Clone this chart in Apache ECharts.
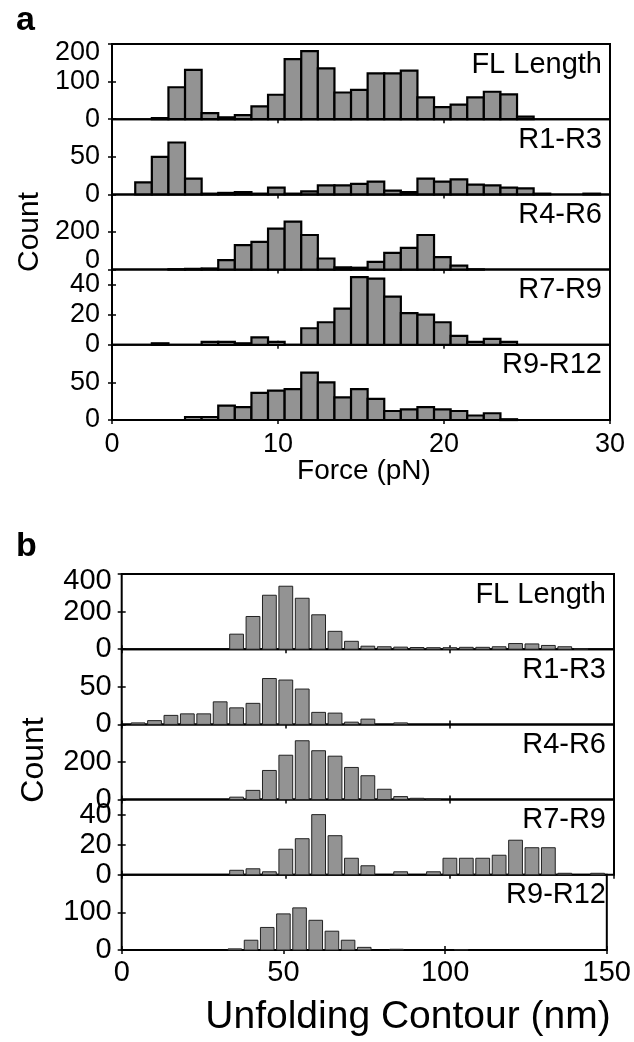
<!DOCTYPE html>
<html><head><meta charset="utf-8">
<script src="https://cdn.jsdelivr.net/npm/echarts@6/dist/echarts.min.js"></script>
<style>html,body{margin:0;padding:0;background:#fff}#c{width:634px;height:1042px}</style>
</head><body><div id="c"></div>
<script>
// ---------- DATA ----------
const panelNames = ['FL Length', 'R1-R3', 'R4-R6', 'R7-R9', 'R9-R12'];

// Panel a: force histograms (bin centres in pN, counts)
const forceBins = [1.9, 2.9, 3.9, 4.9, 5.9, 6.9, 7.9, 8.9, 9.9, 10.9, 11.9, 12.9, 13.9, 14.9,
  15.9, 16.9, 17.9, 18.9, 19.9, 20.9, 21.9, 22.9, 23.9, 24.9, 25.9, 26.9, 27.9, 28.9];
const forceFL    = [0, 3, 85, 131, 16, 5, 11, 34, 65, 160, 181, 135, 71, 78, 122, 122, 129, 58, 32, 39, 58, 73, 66, 7, 0, 0, 0, 0];
const forceR1R3  = [16, 50, 69, 21, 1, 2, 3, 1, 9, 1, 4, 12, 12, 14, 17, 5, 3, 21, 17, 20, 13, 12, 9, 8, 1, 0, 0, 1];
const forceR4R6  = [0, 0, 2, 4, 6, 50, 130, 148, 218, 255, 184, 59, 12, 10, 41, 89, 116, 184, 66, 21, 1, 0, 0, 0, 0, 0, 0, 0];
const forceR7R9  = [0, 1, 0, 0, 2, 2, 1, 5, 2, 0, 11, 15, 24, 45, 44, 32, 21, 20, 15, 6, 2, 4, 2, 0, 0, 0, 0, 0];
const forceR9R12 = [0, 0, 0, 4, 4, 19, 17, 36, 39, 41, 63, 50, 30, 41, 28, 12, 14, 17, 14, 12, 6, 9, 1, 0, 0, 0, 0, 0];
const forceYMax   = [200, 100, 400, 50, 100];
const forceYTicks = [[0, 100, 200], [0, 50], [0, 200], [0, 20, 40], [0, 50]];
const forceXTicks = [0, 10, 20, 30];

// Panel b: unfolding contour histograms (bin centres in nm, counts)
const contourBins = [5, 10, 15, 20, 25, 30, 35, 40, 45, 50, 55, 60, 65, 70, 75, 80, 85, 90, 95,
  100, 105, 110, 115, 120, 125, 130, 135, 140, 145];
const contourFL    = [0, 0, 0, 0, 0, 0, 80, 174, 287, 335, 271, 183, 95, 42, 16, 13, 11, 9, 8, 8, 10, 10, 13, 30, 28, 20, 13, 3, 0];
const contourR1R3  = [2, 5, 12, 14, 14, 30, 22, 28, 61, 59, 47, 16, 15, 3, 7, 0, 2, 0, 0, 0, 0, 0, 0, 0, 0, 0, 0, 0, 0];
const contourR4R6  = [0, 0, 0, 0, 0, 0, 13, 49, 155, 236, 313, 260, 231, 171, 127, 55, 16, 7, 2, 0, 0, 0, 0, 0, 0, 0, 0, 0, 0];
const contourR7R9  = [0, 0, 0, 0, 0, 0, 3, 4, 2, 17, 24, 40, 26, 11, 6, 0, 2, 0, 2, 11, 11, 11, 13, 23, 18, 18, 1, 0, 1];
const contourR9R12 = [0, 0, 0, 0, 0, 0, 3, 26, 60, 96, 112, 79, 50, 26, 7, 0, 2, 0, 0, 0, 1, 0, 0, 0, 0, 0, 0, 0, 0];
const contourYMax   = [400, 100, 400, 50, 200];
const contourYTicks = [[0, 200, 400], [0, 50], [0, 200], [0, 20, 40], [0, 100]];
const contourXTicks = [0, 50, 100, 150];

// ---------- CHART ----------
const FONT = '"Liberation Sans", Arial, Helvetica, sans-serif';
const chart = echarts.init(document.getElementById('c'), null, {renderer: 'canvas'});

const panels = [
  {bins: forceBins, series: [forceFL, forceR1R3, forceR4R6, forceR7R9, forceR9R12],
   yMax: forceYMax, yTicks: forceYTicks, xTicks: forceXTicks,
   left: 112, width: 498, top: 44, h: 75.2, halfW: 0.5, stroke: '#000', lw: 2.2,
   tickFont: 27, lineH: 18, xMargin: 11, yMargin: 12},
  {bins: contourBins, series: [contourFL, contourR1R3, contourR4R6, contourR7R9, contourR9R12],
   yMax: contourYMax, yTicks: contourYTicks, xTicks: contourXTicks,
   left: 121.7, width: 492.3, top: 574, h: 75.2, halfW: 2.1, stroke: '#222', lw: 1,
   tickFont: 29, lineH: 14, xMargin: 8, yMargin: 10}
];

const grid = [], xAxis = [], yAxis = [], series = [], graphic = [];
const tickStyle = {color: '#000', width: 1.5};

panels.forEach((P, pi) => {
  P.series.forEach((counts, i) => {
    const g = grid.length;
    const top = P.top + i * P.h;
    grid.push({left: P.left, top: top, width: P.width, height: P.h, show: true,
      borderColor: '#000', borderWidth: 2, backgroundColor: 'transparent'});
    const xmin = P.xTicks[0], xmax = P.xTicks[P.xTicks.length - 1];
    const xi = P.xTicks[1] - P.xTicks[0];
    ['bottom', 'top'].forEach(pos => {
      xAxis.push({gridIndex: g, type: 'value', min: xmin, max: xmax, interval: xi, position: pos,
        axisLine: {show: false},
        axisTick: {show: true, inside: true, length: 4, lineStyle: tickStyle},
        axisLabel: {show: pos === 'bottom' && i === 4, fontSize: P.tickFont, color: '#000',
          fontFamily: FONT, margin: P.xMargin, hideOverlap: false,
          showMinLabel: true, showMaxLabel: true},
        splitLine: {show: false}});
    });
    ['left', 'right'].forEach(pos => {
      const lab = {show: pos === 'left', customValues: P.yTicks[i], fontSize: P.tickFont,
        lineHeight: P.lineH, color: '#000', fontFamily: FONT, margin: P.yMargin,
        hideOverlap: false, showMinLabel: true, showMaxLabel: true};
      if (pi === 0 && i === 2) lab.verticalAlignMinLabel = 'bottom';
      if (i === 0) lab.verticalAlignMaxLabel = 'top';
      yAxis.push({gridIndex: g, type: 'value', min: 0, max: P.yMax[i], position: pos,
        axisLine: {show: false},
        axisTick: {show: true, inside: true, length: 4, customValues: P.yTicks[i], lineStyle: tickStyle},
        axisLabel: lab, splitLine: {show: false}});
    });
    const halfW = P.halfW, stroke = P.stroke, lw = P.lw;
    series.push({type: 'custom', xAxisIndex: 2 * g, yAxisIndex: 2 * g, z: 3,
      data: P.bins.map((b, k) => [b, counts[k]]),
      renderItem: function (params, api) {
        const x = api.value(0), y = api.value(1);
        if (!(y > 0)) return null;
        const p0 = api.coord([x - halfW, 0]);
        const p1 = api.coord([x + halfW, y]);
        return {type: 'rect',
          shape: {x: p0[0], y: p1[1], width: p1[0] - p0[0], height: p0[1] - p1[1]},
          style: {fill: '#939393', stroke: stroke, lineWidth: lw}};
      }});
    graphic.push({type: 'text', right: 634 - (P.left + P.width) + 8, top: top + 6,
      style: {text: panelNames[i], fontSize: 29, fill: '#000', fontFamily: FONT}});
  });
});

graphic.push(
  {type: 'text', left: 16, top: 4, style: {text: 'a', fontSize: 34, fontWeight: 'bold', fill: '#000', fontFamily: FONT}},
  {type: 'text', left: 16, top: 530, style: {text: 'b', fontSize: 34, fontWeight: 'bold', fill: '#000', fontFamily: FONT}},
  {type: 'text', x: 30, y: 232, rotation: Math.PI / 2,
   style: {text: 'Count', fontSize: 30, fill: '#000', fontFamily: FONT, align: 'center', verticalAlign: 'middle'}},
  {type: 'text', x: 34, y: 760, rotation: Math.PI / 2,
   style: {text: 'Count', fontSize: 32, fill: '#000', fontFamily: FONT, align: 'center', verticalAlign: 'middle'}},
  {type: 'text', x: 364, y: 471,
   style: {text: 'Force (pN)', fontSize: 28, fill: '#000', fontFamily: FONT, align: 'center', verticalAlign: 'middle'}},
  {type: 'text', x: 408, y: 1017,
   style: {text: 'Unfolding Contour (nm)', fontSize: 39, fill: '#000', fontFamily: FONT, align: 'center', verticalAlign: 'middle'}}
);

chart.setOption({animation: false, backgroundColor: '#fff', grid, xAxis, yAxis, series, graphic});
</script></body></html>
